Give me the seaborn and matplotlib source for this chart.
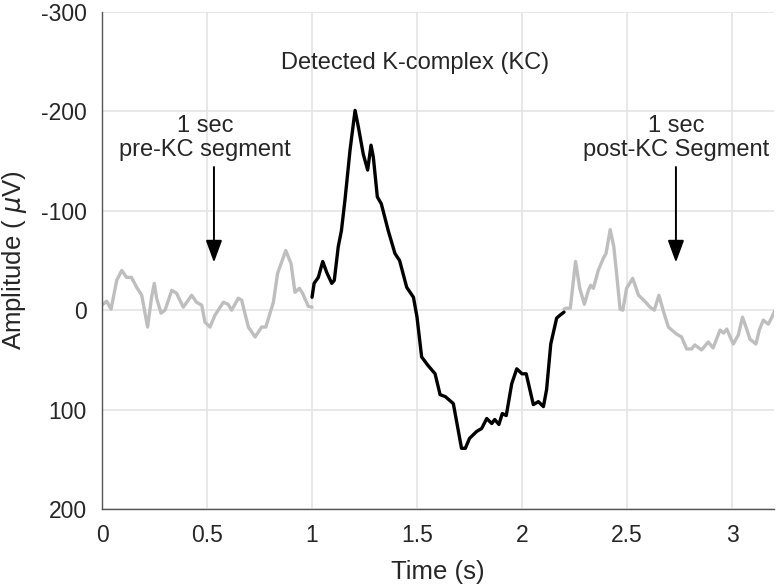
import pandas as pd
import numpy as np
import matplotlib
matplotlib.use('Agg')
import matplotlib.pyplot as plt
import seaborn as sns

pre_t = [0.0, 0.022, 0.043, 0.07, 0.094, 0.117, 0.14, 0.165, 0.189, 0.217, 0.236, 0.249,
         0.26, 0.281, 0.3, 0.332, 0.355, 0.387, 0.427, 0.45, 0.475, 0.49, 0.514, 0.538,
         0.578, 0.6, 0.617, 0.649, 0.665, 0.697, 0.729, 0.76, 0.78, 0.816, 0.836, 0.875,
         0.9, 0.919, 0.94, 0.955, 0.982, 1.0]
pre_v = [-5, -9, -1, -30, -40, -33, -33, -23, -15, 17, -13, -27,
         -12, 3, 0, -20, -17, -3, -15, -8, -5, 12, 17, 5,
         -8, -6, 0, -12, -10, 17, 27, 17, 17, -8, -37, -60,
         -47, -18, -22, -17, -4, -3]

kc_t = [1.0, 1.01, 1.03, 1.051, 1.07, 1.094, 1.106, 1.125, 1.14, 1.157, 1.181, 1.205,
        1.221, 1.244, 1.265, 1.281, 1.292, 1.311, 1.33, 1.363, 1.395, 1.417, 1.451, 1.483,
        1.5, 1.522, 1.55, 1.586, 1.61, 1.635, 1.673, 1.712, 1.73, 1.75, 1.784, 1.808,
        1.832, 1.856, 1.87, 1.89, 1.906, 1.925, 1.951, 1.975, 2.0, 2.02, 2.054, 2.078,
        2.102, 2.117, 2.137, 2.165, 2.181, 2.2]
kc_v = [-13, -27, -33, -49, -38, -27, -30, -64, -80, -111, -161, -201,
        -184, -157, -141, -166, -154, -114, -107, -80, -57, -50, -23, -13,
        7, 47, 55, 64, 85, 87, 94, 139, 139, 129, 122, 119,
        109, 114, 110, 115, 104, 106, 74, 59, 64, 64, 95, 92,
        97, 80, 34, 8, 5, 2]

post_t = [2.2, 2.21, 2.23, 2.255, 2.275, 2.297, 2.316, 2.327, 2.34, 2.363, 2.387, 2.4,
          2.42, 2.437, 2.45, 2.467, 2.48, 2.498, 2.527, 2.555, 2.585, 2.61, 2.63, 2.652,
          2.672, 2.697, 2.736, 2.76, 2.784, 2.807, 2.823, 2.855, 2.887, 2.91, 2.943, 2.96,
          2.975, 3.006, 3.03, 3.05, 3.07, 3.085, 3.114, 3.13, 3.149, 3.173, 3.19, 3.205]
post_v = [-1, -2, -2, -49, -22, -6, -20, -25, -22, -40, -52, -57,
          -81, -64, -38, -1, 0, -22, -32, -15, -9, -3, 0, -15,
          0, 17, 24, 27, 39, 39, 35, 40, 32, 38, 20, 23,
          19, 34, 25, 7, 19, 29, 34, 20, 10, 14, 7, 0]

x_ticks = [0, 0.5, 1, 1.5, 2, 2.5, 3]
x_labels = ['0', '0.5', '1', '1.5', '2', '2.5', '3']
y_ticks = [-300, -200, -100, 0, 100, 200]

df = pd.concat([
    pd.DataFrame({'t': pre_t, 'v': pre_v, 'seg': 'pre'}),
    pd.DataFrame({'t': kc_t, 'v': kc_v, 'seg': 'kc'}),
    pd.DataFrame({'t': post_t, 'v': post_v, 'seg': 'post'}),
])

sns.set_style('whitegrid')
plt.rcParams['font.family'] = ['Liberation Sans', 'DejaVu Sans']
plt.rcParams['mathtext.fontset'] = 'dejavusans'
plt.rcParams['axes.unicode_minus'] = False

fig = plt.figure(figsize=(7.8, 5.88), dpi=100)
ax = fig.add_axes([0.1308, 0.1344, 0.8615, 0.8452])

colors = {'pre': '#bebebe', 'kc': '#000000', 'post': '#bebebe'}
for seg in ['pre', 'post', 'kc']:
    sns.lineplot(data=df[df.seg == seg], x='t', y='v', color=colors[seg],
                 linewidth=2.4, sort=False, estimator=None, ax=ax)

ax.set_xlim(0, 3.2)
ax.set_ylim(200, -300)
ax.set_xticks(x_ticks)
ax.set_xticklabels(x_labels)
ax.set_yticks(y_ticks)
ax.grid(True, color='#e4e4e4', linewidth=1.2)
for s in ['top', 'right']:
    ax.spines[s].set_visible(False)
for s in ['left', 'bottom']:
    ax.spines[s].set_color('#555555')
    ax.spines[s].set_linewidth(1.0)
ax.tick_params(axis='both', direction='in', length=5, width=1, colors='#555555',
               labelcolor='#262626', labelsize=16.5, pad=11)

ax.set_xlabel('Time (s)', fontsize=18.5, color='#262626')
ax.set_ylabel(r'Amplitude ( $\mu$V)', fontsize=18.5, color='#262626')
ax.xaxis.set_label_coords(0.5, -0.102)
ax.yaxis.set_label_coords(-0.108, 0.5)

ax.text(1.49, -249, 'Detected K-complex (KC)', ha='center', va='center', fontsize=17)
ax.text(0.49, -173, '1 sec\npre-KC segment', ha='center', va='center', fontsize=17,
        linespacing=1.1)
ax.text(2.733, -173, '1 sec\npost-KC Segment', ha='center', va='center', fontsize=17,
        linespacing=1.1)
arrow = dict(arrowstyle='-|>,head_length=0.68,head_width=0.25', color='black',
             lw=1.4, mutation_scale=20, shrinkA=0, shrinkB=0)
ax.annotate('', xy=(0.533, -48), xytext=(0.533, -144), arrowprops=arrow)
ax.annotate('', xy=(2.733, -48), xytext=(2.733, -144), arrowprops=arrow)

fig.savefig('out.png', dpi=100)
